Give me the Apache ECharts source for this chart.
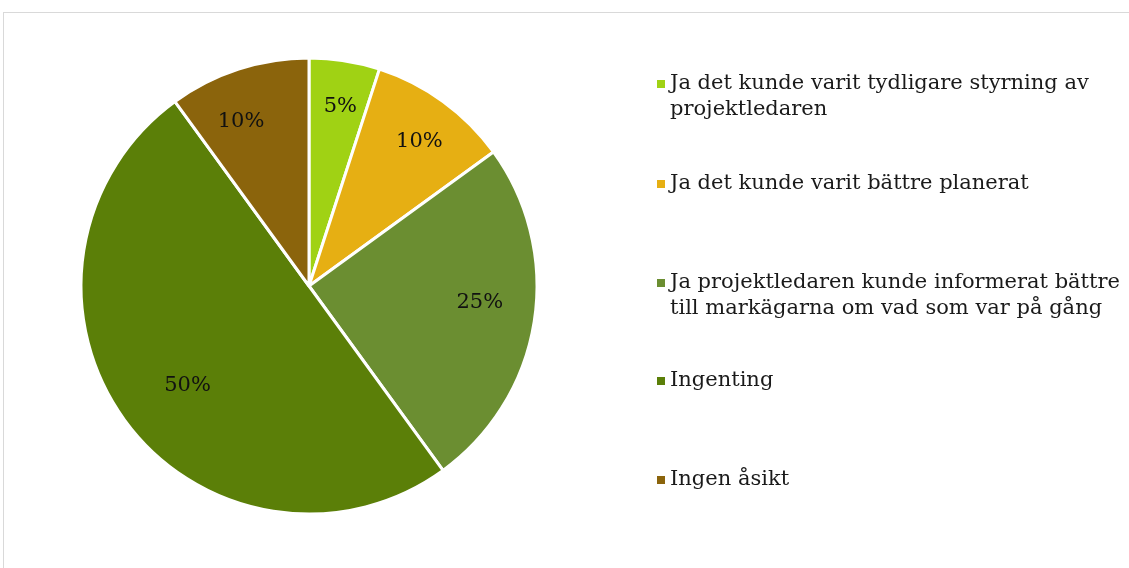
<!DOCTYPE html>
<html>
<head>
<meta charset="utf-8">
<script src="https://cdn.jsdelivr.net/npm/echarts@6/dist/echarts.min.js"></script>
<style>
  html, body { margin: 0; padding: 0; background: #ffffff; }
  #frame { position: absolute; left: 3px; top: 12px; width: 1126px; height: 556px;
           border-top: 1px solid #d9d9d9; border-left: 1px solid #d9d9d9; box-sizing: border-box; }
  #chart { position: absolute; left: 0; top: 0; width: 1129px; height: 568px; }
</style>
</head>
<body>
<div id="frame"></div>
<div id="chart"></div>
<script>
const categories = [
  'Ja det kunde varit tydligare styrning av\nprojektledaren',
  'Ja det kunde varit bättre planerat',
  'Ja projektledaren kunde informerat bättre\ntill markägarna om vad som var på gång',
  'Ingenting',
  'Ingen åsikt'
];
const values = [5, 10, 25, 50, 10];
const colors = ['#A0D214', '#E6AF13', '#6B8E31', '#5B7F08', '#8B640C'];

const FONT = '"DejaVu Serif", "Liberation Serif", serif';
const total = values.reduce((a, b) => a + b, 0);
const pieData = categories.map((c, i) => ({ name: c, value: values[i], itemStyle: { color: colors[i] } }));

// one legend component per item; two-line items get an empty leading line so the
// marker lines up with their first line, as in the reference
const legendTops = [45, 171, 244, 368, 467];
const legends = categories.map((c, i) => ({
  left: 657,
  top: legendTops[i],
  orient: 'vertical',
  padding: 0,
  itemWidth: 8,
  itemHeight: 8,
  icon: 'rect',
  selectedMode: false,
  data: [{ name: c, itemStyle: { color: colors[i], borderWidth: 0 } }],
  formatter: n => (n.indexOf('\n') >= 0 ? '\n' + n : n),
  textStyle: { fontFamily: FONT, fontSize: 21, color: '#1a1a1a', lineHeight: 26 }
}));

const nudge = [[3, -1], [4, 2], [-8, -12], [25, -7], [-12, 8]];

const chart = echarts.init(document.getElementById('chart'), null, { renderer: 'canvas' });
chart.setOption({
  animation: false,
  backgroundColor: 'transparent',
  legend: legends,
  series: [
    {
      type: 'pie',
      center: [309, 286],
      radius: 228,
      startAngle: 90,
      clockwise: true,
      avoidLabelOverlap: false,
      silent: true,
      label: { show: false },
      labelLine: { show: false },
      itemStyle: { borderColor: '#ffffff', borderWidth: 3 },
      data: pieData
    },
    {
      type: 'pie',
      center: [309, 286],
      radius: [128, 228],
      startAngle: 90,
      clockwise: true,
      avoidLabelOverlap: false,
      silent: true,
      itemStyle: { color: 'rgba(0,0,0,0)', borderWidth: 0 },
      label: {
        show: true,
        position: 'inside',
        fontFamily: FONT,
        fontSize: 21,
        color: '#111111',
        formatter: p => Math.round(p.value / total * 100) + '%'
      },
      labelLine: { show: false },
      labelLayout: p => ({ dx: nudge[p.dataIndex][0], dy: nudge[p.dataIndex][1] }),
      data: categories.map((c, i) => ({ name: c, value: values[i] }))
    }
  ]
});
</script>
</body>
</html>
